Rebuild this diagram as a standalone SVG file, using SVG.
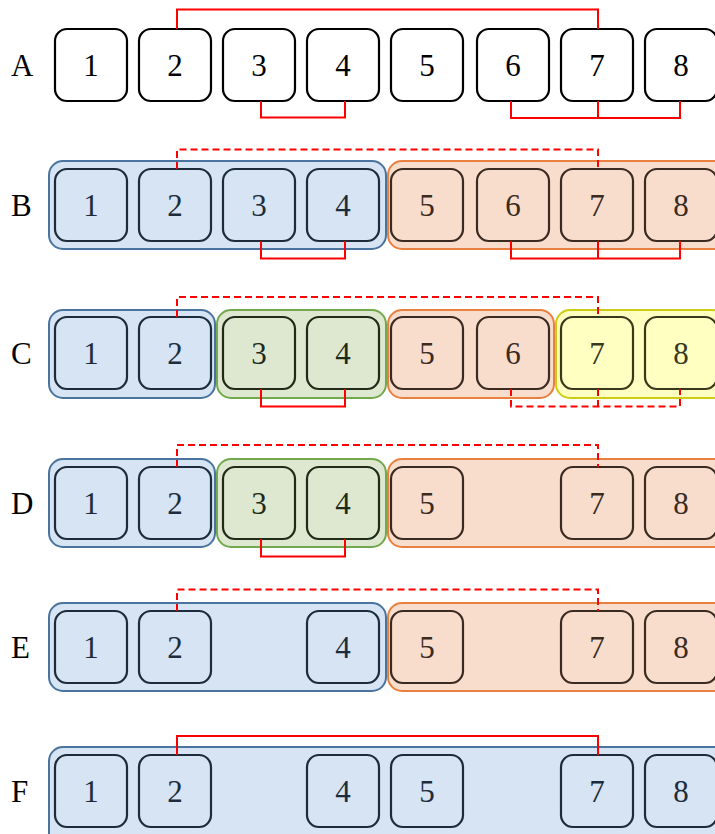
<svg xmlns="http://www.w3.org/2000/svg" width="715" height="834" viewBox="0 0 715 834" font-family="'Liberation Serif', 'Times New Roman', Times, 'DejaVu Serif', serif">
<style>
text{font-family:'Liberation Serif','Times New Roman',Times,'DejaVu Serif',serif;font-size:31px;}
.lbl{fill:#000;}
.n rect{stroke-width:2.2;}
.n text{text-anchor:middle;}
.w rect{fill:#fff;stroke:#000;} .w text{fill:#000;}
.b rect{fill:none;stroke:#1d2c3b;} .b text{fill:#1d2c3b;}
.o rect{fill:none;stroke:#3b2a20;} .o text{fill:#3b2a20;}
.g rect{fill:none;stroke:#1f2a19;} .g text{fill:#1f2a19;}
.y rect{fill:none;stroke:#38381a;} .y text{fill:#38381a;}
.grp{stroke-width:2;}
.gb{fill:#d6e4f3;stroke:#4a74a0;}
.go{fill:#f8ddcc;stroke:#ea8040;}
.gg{fill:#dee8d1;stroke:#72a94c;}
.gy{fill:#ffffc2;stroke:#cccc10;}
.c{fill:none;stroke:#ff0000;stroke-width:2;}
.d{stroke-dasharray:7,4;}
</style>

<g id="labels" class="lbl">
<text x="11" y="76">A</text>
<text x="11" y="216">B</text>
<text x="11" y="364">C</text>
<text x="11" y="514">D</text>
<text x="11" y="658">E</text>
<text x="11" y="802">F</text>
</g>

<g id="containers">
<rect id="B-blue" class="grp gb" x="49" y="161" width="337" height="88" rx="14"/>
<rect id="B-orange" class="grp go" x="388" y="161" width="340" height="88" rx="14"/>
<rect id="C-blue" class="grp gb" x="49" y="310" width="166" height="88" rx="14"/>
<rect id="C-green" class="grp gg" x="217" y="310" width="169" height="88" rx="14"/>
<rect id="C-orange" class="grp go" x="388" y="310" width="166" height="88" rx="14"/>
<rect id="C-yellow" class="grp gy" x="556" y="310" width="170" height="88" rx="14"/>
<rect id="D-blue" class="grp gb" x="49" y="459" width="166" height="88" rx="14"/>
<rect id="D-green" class="grp gg" x="217" y="459" width="169" height="88" rx="14"/>
<rect id="D-orange" class="grp go" x="388" y="459" width="340" height="88" rx="14"/>
<rect id="E-blue" class="grp gb" x="49" y="603" width="337" height="88" rx="14"/>
<rect id="E-orange" class="grp go" x="388" y="603" width="340" height="88" rx="14"/>
<rect id="F-blue" class="grp gb" x="49" y="747" width="680" height="100" rx="14"/>
</g>

<!-- Row A -->
<g id="A1" class="n w"><rect x="55" y="29" width="72" height="72" rx="12"/><text x="91" y="76">1</text></g>
<g id="A2" class="n w"><rect x="139" y="29" width="72" height="72" rx="12"/><text x="175" y="76">2</text></g>
<g id="A3" class="n w"><rect x="223" y="29" width="72" height="72" rx="12"/><text x="259" y="76">3</text></g>
<g id="A4" class="n w"><rect x="307" y="29" width="72" height="72" rx="12"/><text x="343" y="76">4</text></g>
<g id="A5" class="n w"><rect x="391" y="29" width="72" height="72" rx="12"/><text x="427" y="76">5</text></g>
<g id="A6" class="n w"><rect x="477" y="29" width="72" height="72" rx="12"/><text x="513" y="76">6</text></g>
<g id="A7" class="n w"><rect x="561" y="29" width="72" height="72" rx="12"/><text x="597" y="76">7</text></g>
<g id="A8" class="n w"><rect x="645" y="29" width="72" height="72" rx="12"/><text x="681" y="76">8</text></g>

<!-- Row B -->
<g id="B1" class="n b"><rect x="55" y="169" width="72" height="72" rx="12"/><text x="91" y="216">1</text></g>
<g id="B2" class="n b"><rect x="139" y="169" width="72" height="72" rx="12"/><text x="175" y="216">2</text></g>
<g id="B3" class="n b"><rect x="223" y="169" width="72" height="72" rx="12"/><text x="259" y="216">3</text></g>
<g id="B4" class="n b"><rect x="307" y="169" width="72" height="72" rx="12"/><text x="343" y="216">4</text></g>
<g id="B5" class="n o"><rect x="391" y="169" width="72" height="72" rx="12"/><text x="427" y="216">5</text></g>
<g id="B6" class="n o"><rect x="477" y="169" width="72" height="72" rx="12"/><text x="513" y="216">6</text></g>
<g id="B7" class="n o"><rect x="561" y="169" width="72" height="72" rx="12"/><text x="597" y="216">7</text></g>
<g id="B8" class="n o"><rect x="645" y="169" width="72" height="72" rx="12"/><text x="681" y="216">8</text></g>

<!-- Row C -->
<g id="C1" class="n b"><rect x="55" y="317" width="72" height="72" rx="12"/><text x="91" y="364">1</text></g>
<g id="C2" class="n b"><rect x="139" y="317" width="72" height="72" rx="12"/><text x="175" y="364">2</text></g>
<g id="C3" class="n g"><rect x="223" y="317" width="72" height="72" rx="12"/><text x="259" y="364">3</text></g>
<g id="C4" class="n g"><rect x="307" y="317" width="72" height="72" rx="12"/><text x="343" y="364">4</text></g>
<g id="C5" class="n o"><rect x="391" y="317" width="72" height="72" rx="12"/><text x="427" y="364">5</text></g>
<g id="C6" class="n o"><rect x="477" y="317" width="72" height="72" rx="12"/><text x="513" y="364">6</text></g>
<g id="C7" class="n y"><rect x="561" y="317" width="72" height="72" rx="12"/><text x="597" y="364">7</text></g>
<g id="C8" class="n y"><rect x="645" y="317" width="72" height="72" rx="12"/><text x="681" y="364">8</text></g>

<!-- Row D -->
<g id="D1" class="n b"><rect x="55" y="467" width="72" height="72" rx="12"/><text x="91" y="514">1</text></g>
<g id="D2" class="n b"><rect x="139" y="467" width="72" height="72" rx="12"/><text x="175" y="514">2</text></g>
<g id="D3" class="n g"><rect x="223" y="467" width="72" height="72" rx="12"/><text x="259" y="514">3</text></g>
<g id="D4" class="n g"><rect x="307" y="467" width="72" height="72" rx="12"/><text x="343" y="514">4</text></g>
<g id="D5" class="n o"><rect x="391" y="467" width="72" height="72" rx="12"/><text x="427" y="514">5</text></g>
<g id="D7" class="n o"><rect x="561" y="467" width="72" height="72" rx="12"/><text x="597" y="514">7</text></g>
<g id="D8" class="n o"><rect x="645" y="467" width="72" height="72" rx="12"/><text x="681" y="514">8</text></g>

<!-- Row E -->
<g id="E1" class="n b"><rect x="55" y="611" width="72" height="72" rx="12"/><text x="91" y="658">1</text></g>
<g id="E2" class="n b"><rect x="139" y="611" width="72" height="72" rx="12"/><text x="175" y="658">2</text></g>
<g id="E4" class="n b"><rect x="307" y="611" width="72" height="72" rx="12"/><text x="343" y="658">4</text></g>
<g id="E5" class="n o"><rect x="391" y="611" width="72" height="72" rx="12"/><text x="427" y="658">5</text></g>
<g id="E7" class="n o"><rect x="561" y="611" width="72" height="72" rx="12"/><text x="597" y="658">7</text></g>
<g id="E8" class="n o"><rect x="645" y="611" width="72" height="72" rx="12"/><text x="681" y="658">8</text></g>

<!-- Row F -->
<g id="F1" class="n b"><rect x="55" y="755" width="72" height="72" rx="12"/><text x="91" y="802">1</text></g>
<g id="F2" class="n b"><rect x="139" y="755" width="72" height="72" rx="12"/><text x="175" y="802">2</text></g>
<g id="F4" class="n b"><rect x="307" y="755" width="72" height="72" rx="12"/><text x="343" y="802">4</text></g>
<g id="F5" class="n b"><rect x="391" y="755" width="72" height="72" rx="12"/><text x="427" y="802">5</text></g>
<g id="F7" class="n b"><rect x="561" y="755" width="72" height="72" rx="12"/><text x="597" y="802">7</text></g>
<g id="F8" class="n b"><rect x="645" y="755" width="72" height="72" rx="12"/><text x="681" y="802">8</text></g>

<g id="connectors">
<path class="c" d="M177,29 V9.5 H598 V29"/>
<path class="c" d="M261,101 V117.5 H345 V101"/>
<path class="c" d="M511,101 V118 H680 V101 M598,101 V118"/>

<path class="c d" d="M177,169 V149.5 H598 V169"/>
<path class="c" d="M261,241 V258.5 H345 V241"/>
<path class="c" d="M511,241 V258.5 H680 V241 M598,241 V258.5"/>

<path class="c d" d="M177,317 V297 H598 V317"/>
<path class="c" d="M261,389 V406.5 H345 V389"/>
<path class="c d" d="M511,389 V406.5 H680 V389 M598,389 V406.5"/>

<path class="c d" d="M177,467 V445 H598 V467"/>
<path class="c" d="M261,539 V556.5 H345 V539"/>

<path class="c d" d="M177,611 V589.5 H598 V611"/>

<path class="c" d="M177,755 V736 H598 V755"/>
</g>
</svg>
